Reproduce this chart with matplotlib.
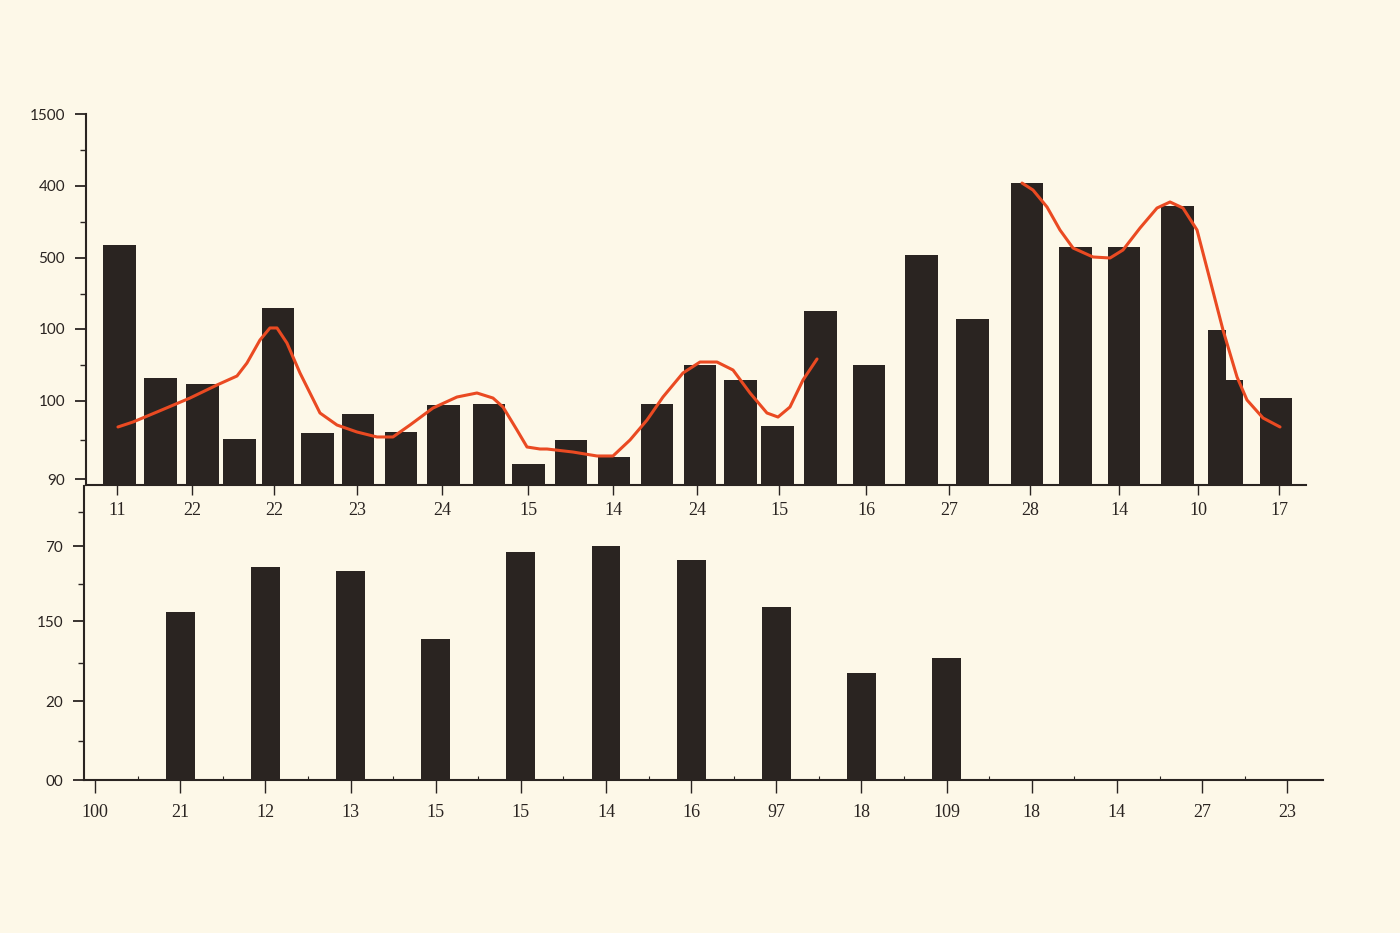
import matplotlib.pyplot as plt

# top panel: bar positions (in tick units) and heights
top_x = [0.03, 0.524, 1.03, 1.476, 1.94, 2.416, 2.904, 3.422, 3.934, 4.482,
         4.958, 5.47, 5.988, 6.506, 7.024, 7.512, 7.958, 8.476, 9.06, 9.693,
         10.307, 10.964, 11.548, 12.133, 12.777, 13.253, 13.458, 13.964]
top_h = [3.33, 1.49, 1.40, 0.64, 2.46, 0.72, 0.99, 0.74, 1.11, 1.125,
         0.29, 0.625, 0.39, 1.125, 1.67, 1.46, 0.82, 2.42, 1.67, 3.19,
         2.31, 4.19, 3.31, 3.31, 3.875, 2.15, 1.46, 1.21]
top_xtick_pos = [0, 0.904, 1.892, 2.892, 3.916, 4.952, 5.976, 6.988, 7.976,
                 9.024, 10.024, 11.0, 12.072, 13.024, 14.0]
top_xlabels = ['11', '22', '22', '23', '24', '15', '14', '24', '15', '16',
               '27', '28', '14', '10', '17']
top_ytick_pos = [0.083, 1.167, 2.167, 3.153, 4.153, 5.153]
top_ylabels = ['90', '100', '100', '500', '400', '1500']

# red trend line, two pieces
line1_x = [0.012, 0.193, 0.482, 0.880, 1.205, 1.446, 1.566, 1.723, 1.843, 1.928,
           2.048, 2.205, 2.446, 2.651, 2.892, 3.133, 3.325, 3.530, 3.807, 4.096,
           4.337, 4.530, 4.651, 4.819, 4.940, 5.096, 5.181, 5.494, 5.783, 5.976,
           6.181, 6.386, 6.578, 6.819, 7.024, 7.229, 7.422, 7.627, 7.831, 7.964,
           8.108, 8.265, 8.434]
line1_y = [0.806, 0.875, 1.014, 1.208, 1.389, 1.514, 1.694, 2.014, 2.181, 2.181,
           1.972, 1.556, 1.0, 0.833, 0.736, 0.667, 0.667, 0.833, 1.069, 1.222,
           1.278, 1.208, 1.083, 0.764, 0.528, 0.5, 0.5, 0.458, 0.403, 0.403,
           0.625, 0.903, 1.222, 1.556, 1.708, 1.708, 1.597, 1.278, 1.0, 0.944,
           1.083, 1.458, 1.75]
line2_x = [10.904, 11.036, 11.205, 11.361, 11.518, 11.759, 11.964, 12.120, 12.325,
           12.530, 12.687, 12.843, 13.012, 13.169, 13.325, 13.494, 13.614, 13.807,
           14.012]
line2_y = [4.194, 4.097, 3.861, 3.542, 3.292, 3.167, 3.153, 3.264, 3.569,
           3.847, 3.931, 3.847, 3.542, 2.847, 2.153, 1.5, 1.181, 0.931, 0.806]

# bottom panel
bot_xlabels = ['100', '21', '12', '13', '15', '15', '14', '16', '97', '18',
               '109', '18', '14', '27', '23']
bot_bar_idx = [1, 2, 3, 4, 5, 6, 7, 8, 9, 10]
bot_h = [2.154, 2.731, 2.679, 1.808, 2.923, 3.0, 2.821, 2.218, 1.372, 1.564]
bot_ytick_pos = [0, 1.013, 2.038, 3.0]
bot_ylabels = ['00', '20', '150', '70']

bg = '#fdf8e8'
ink = '#2a2421'
red = '#ea4a22'

fig = plt.figure(figsize=(14, 9.33), dpi=100, facecolor=bg)
W, H = 1400, 933

ax1 = fig.add_axes([86 / W, (H - 485) / H, (1306 - 86) / W, (485 - 114) / H])
ax2 = fig.add_axes([84 / W, (H - 780) / H, (1323 - 84) / W, (780 - 486) / H])

for ax in (ax1, ax2):
    ax.set_facecolor(bg)
    ax.patch.set_alpha(0)
    for s in ('top', 'right'):
        ax.spines[s].set_visible(False)
    for s in ('left', 'bottom'):
        ax.spines[s].set_linewidth(1.5)
        ax.spines[s].set_color(ink)

# top panel
widths = [0.39] * len(top_x)
widths[25] = 0.21
widths[26] = 0.21
ax1.bar(top_x, top_h, width=widths, color=ink, zorder=2)
ax1.plot(line1_x, line1_y, color=red, lw=2.2, zorder=3,
         solid_capstyle='round', solid_joinstyle='round')
ax1.plot(line2_x, line2_y, color=red, lw=2.2, zorder=3,
         solid_capstyle='round', solid_joinstyle='round')
ax1.set_xlim(-0.373, 14.325)
ax1.set_ylim(0, 5.153)
ax1.set_xticks(top_xtick_pos)
ax1.set_xticklabels(top_xlabels, family='Liberation Serif', fontsize=13, color=ink)
ax1.set_yticks(top_ytick_pos)
ax1.set_yticklabels(top_ylabels, family='Lato', fontsize=11, color=ink)
ax1.set_yticks([0.625, 1.667, 2.653, 3.653, 4.653], minor=True)
ax1.tick_params(axis='x', length=7, width=1, color=ink, pad=5)
ax1.tick_params(axis='y', which='major', length=8, width=1.3, color=ink, pad=7)
ax1.tick_params(axis='y', which='minor', length=4, width=1, color=ink)

# bottom panel
ax2.bar(bot_bar_idx, bot_h, width=0.34, color=ink, zorder=2)
ax2.set_xlim(-0.13, 14.42)
ax2.set_ylim(0, 3.77)
ax2.set_xticks(range(len(bot_xlabels)))
ax2.set_xticklabels(bot_xlabels, family='Liberation Serif', fontsize=13, color=ink)
ax2.set_xticks([i + 0.5 for i in range(len(bot_xlabels) - 1)], minor=True)
ax2.set_yticks(bot_ytick_pos)
ax2.set_yticklabels(bot_ylabels, family='Lato', fontsize=11, color=ink)
ax2.set_yticks([0.5, 1.5, 2.513, 3.436], minor=True)
ax2.tick_params(axis='x', which='major', length=9, width=1, color=ink, pad=8)
ax2.tick_params(axis='x', which='minor', direction='in', length=3, width=0.8, color=ink)
ax2.tick_params(axis='y', which='major', length=8, width=1.3, color=ink, pad=7)
ax2.tick_params(axis='y', which='minor', length=4, width=1, color=ink)

fig.savefig('out.png', dpi=100, facecolor=bg)
